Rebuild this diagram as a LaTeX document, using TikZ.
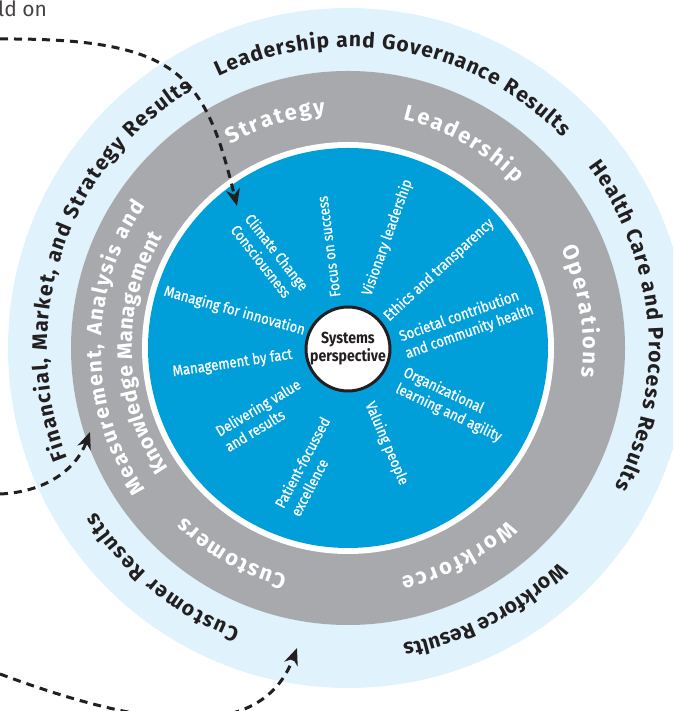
\documentclass[tikz,border=0pt]{standalone}
\usepackage{fontspec}
\setmainfont{Fira Sans}
\newfontfamily\condfont[FakeStretch=0.88,FakeBold=0.7]{Fira Sans}
\newfontfamily\sysfont[FakeStretch=0.88]{Fira Sans}
\usetikzlibrary{decorations.text,arrows.meta}
\definecolor{ringlight}{HTML}{E0F2FC}
\definecolor{ringgrey}{HTML}{A7A9AC}
\definecolor{coreblue}{HTML}{009FDA}
\definecolor{inkdark}{HTML}{231F20}
\newcommand\arctext[5]{%
  \path[decorate, decoration={text along path, text={|#4|#5}, text align=fit to path}]
    ([shift={(#2:#1)}]C) arc[start angle=#2, end angle=#3, radius=#1];}
\newcommand\outerfnt{\fontsize{21}{21}\selectfont\bfseries\color{inkdark}}
\newcommand\greyfnt{\fontsize{22}{22}\selectfont\bfseries\color{white}}
\newcommand\greyfntb{\fontsize{21}{21}\selectfont\bfseries\color{white}}
\begin{document}
\begin{tikzpicture}[x=1pt,y=1pt,
  lbl/.style={text=white, font=\condfont\fontsize{15}{18}\selectfont, align=left, inner sep=0pt},
  dasharrow/.style={draw=inkdark, line width=3pt, dash pattern=on 8pt off 6pt,
    -{Stealth[length=17pt,width=14pt]}}]
\useasboundingbox (0,0) rectangle (673,711);
\clip (0,0) rectangle (673,711);
\coordinate (C) at (348,363);
% rings
\fill[ringlight] (C) circle[radius=340pt];
\fill[ringgrey] (C) circle[radius=277pt];
\fill[white] (C) circle[radius=206pt];
\fill[coreblue] (C) circle[radius=200pt];
% outer ring texts
\arctext{301pt}{115.5}{44.5}{\outerfnt}{Leadership and Governance Results}
\arctext{301pt}{37}{-27.5}{\outerfnt}{Health Care and Process Results}
\arctext{301pt}{-45.5}{-79.5}{\outerfnt}{Workforce Results}
\arctext{301pt}{-111}{-147}{\outerfnt}{Customer Results}
\arctext{301pt}{201.5}{121}{\outerfnt}{Financial, Market,  and Strategy Results}
% grey ring texts
\arctext{235pt}{120}{95.5}{\greyfnt}{Strategy}
\arctext{235pt}{76.5}{44.5}{\greyfnt}{Leadership}
\arctext{235pt}{25}{-7}{\greyfnt}{Operations}
\arctext{235pt}{-47}{-77}{\greyfnt}{Workforce}
\arctext{235pt}{-105}{-134}{\greyfnt}{Customers}
\arctext{247pt}{215}{145}{\greyfntb}{Measurement, Analysis and}
\arctext{216pt}{214}{149}{\greyfntb}{Knowledge Management}
% inner labels
\node[lbl, rotate=-52] (climate) at (270,453.5) {Climate Change\\Consciousness};
\node[lbl, rotate=97.4] (focus) at (329,464.5) {Focus on success};
\node[lbl, rotate=70.3] (vision) at (387.5,473.5) {Visionary leadership};
\node[lbl, rotate=42.7] (ethics) at (439,441) {Ethics and transparency};
\node[lbl, rotate=19.5] (societal) at (466.5,387.5) {Societal contribution\\and community health};
\node[lbl, rotate=-25.5] (orglearn) at (452.5,306) {Organizational\\learning and agility};
\node[lbl, rotate=-66.8] (valuing) at (386.5,267.5) {Valuing people};
\node[lbl, rotate=62] (patient) at (310,244.5) {Patient-focussed\\excellence};
\node[lbl, rotate=31] (delivering) at (262.5,296) {Delivering value\\and results};
\node[lbl, rotate=8.4] (mfact) at (232.5,347.5) {Management by fact};
\node[lbl, rotate=-15.7] (minnov) at (234.5,400) {Managing for innovation};
% centre
\node[circle, draw=inkdark, line width=3pt, fill=white, minimum size=84pt, inner sep=0pt,
  align=center, font=\sysfont\bfseries\fontsize{16}{18}\selectfont, text=inkdark] (sys) at (348,362) {Systems\\perspective};
% fragment text
\node[anchor=base west, inner sep=0pt, font=\fontsize{21}{21}\selectfont, text=inkdark!85] (frag) at (-2,694) {ld on};
% dashed arrows
\coordinate (a1s) at (0,672);
\coordinate (a1e) at (237,505);
\coordinate (a2s) at (0,217);
\coordinate (a2e) at (90,279);
\coordinate (a3s) at (0,37);
\coordinate (a3e) at (297,63);
\draw[dasharrow] (a1s) .. controls (180,673) and (205,636) .. (a1e);
\draw[dasharrow] (a2s) .. controls (45,219) and (76,241) .. (a2e);
\draw[dasharrow] (a3s) .. controls (150,-19) and (262,-31) .. (a3e);
\end{tikzpicture}
\end{document}
